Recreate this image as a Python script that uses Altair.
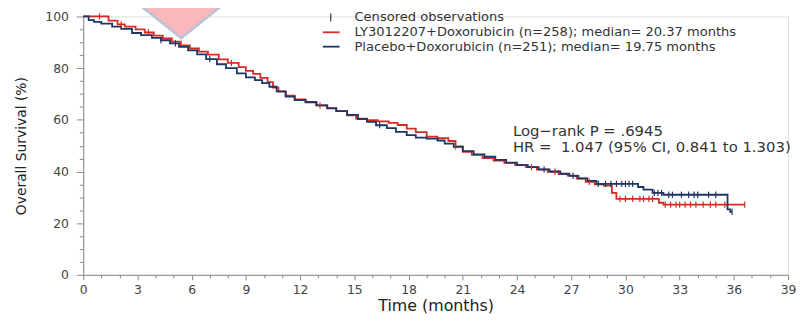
import altair as alt
import pandas as pd
from bisect import bisect_right

# ---- data ----
red_t = [0, 1.4, 1.9, 2.3, 2.9, 3.4, 3.9, 4.4, 4.9, 5.4, 5.9, 6.4, 6.9, 7.5, 8.0, 8.6, 9.0, 9.4, 9.8,
         10.2, 10.5, 10.8, 11.2, 11.7, 12.3, 12.9, 13.5, 14.0, 14.6, 15.1, 15.7, 16.3, 16.9, 17.4, 17.9,
         18.4, 19.0, 19.6, 20.2, 20.6, 21.0, 21.5, 22.1, 22.7, 23.3, 23.9, 24.5, 25.1, 25.7, 26.3, 26.8,
         27.3, 27.8, 28.3, 28.8, 29.25, 29.5, 31.85, 32.1, 36.6]
red_s = [100, 98.4, 96.9, 96.1, 95.0, 93.8, 92.6, 91.5, 90.3, 88.8, 87.6, 86.4, 85.2, 83.4, 82.0, 80.4, 78.9,
         77.8, 76.2, 74.6, 72.5, 70.9, 69.4, 67.9, 66.9, 65.6, 64.5, 63.4, 61.7, 60.5, 59.9, 59.4, 58.8, 58.0,
         56.6, 55.2, 53.5, 52.9, 51.8, 49.7, 47.6, 46.4, 45.2, 44.2, 43.3, 42.5, 41.7, 40.7, 39.9, 39.0, 38.4,
         37.2, 36.0, 35.0, 34.5, 31.7, 29.4, 27.9, 27.2, 27.2]

blue_t = [0, 0.3, 0.6, 1.0, 1.6, 2.1, 2.7, 3.2, 3.8, 4.3, 4.8, 5.3, 5.8, 6.3, 6.8, 7.4, 7.9, 8.5, 9.0, 9.5,
          9.9, 10.3, 10.7, 11.2, 11.7, 12.3, 12.9, 13.5, 14.0, 14.6, 15.2, 15.7, 16.2, 16.8, 17.3, 17.9,
          18.4, 19.0, 19.6, 20.0, 20.5, 21.0, 21.6, 22.2, 22.8, 23.4, 24.0, 24.6, 25.2, 25.8, 26.4, 26.9,
          27.4, 27.9, 28.4, 30.7, 31.0, 31.5, 32.1, 35.65, 35.8, 35.9]
blue_s = [100, 98.6, 97.9, 97.2, 96.1, 95.2, 93.6, 92.8, 91.7, 90.8, 89.6, 88.2, 86.9, 85.3, 83.5, 81.5,
          80.0, 78.0, 76.4, 75.4, 74.2, 72.8, 71.0, 69.0, 67.6, 66.8, 65.6, 64.4, 63.4, 61.9, 60.3, 59.2,
          57.9, 56.8, 55.3, 54.1, 53.1, 52.7, 52.0, 50.8, 49.5, 47.9, 46.6, 45.7, 44.5, 43.4, 42.5, 41.7,
          40.8, 40.0, 39.2, 38.3, 37.3, 36.4, 35.2, 34.0, 33.0, 31.7, 31.0, 25.3, 24.4, 24.4]

red_cens = [0.9, 2.1, 3.6, 8.2, 13.1, 20.6, 24.8, 26.1, 28.0, 29.7, 30.0, 30.4, 30.8, 31.0, 31.3, 31.5,
            32.2, 32.5, 32.8, 33.0, 33.3, 33.6, 33.9, 34.3, 34.7, 35.0, 35.5, 36.6]
blue_cens = [4.3, 5.1, 7.0, 16.4, 25.5, 27.1, 28.5, 28.9, 29.2, 29.5, 29.8, 30.0, 30.2, 30.4, 31.6, 31.8,
             32.0, 32.4, 32.6, 33.1, 33.5, 33.8, 34.0, 34.6, 35.0, 35.9]

arm_red = "LY3012207+Doxorubicin (n=258); median= 20.37 months"
arm_blue = "Placebo+Doxorubicin (n=251); median= 19.75 months"
censor_label = "Censored observations"
stats_lines = ["Log\u2212rank P = .6945", "HR =\u00a0 1.047 (95% CI, 0.841 to 1.303)"]

x_ticks = list(range(0, 40))
y_ticks = list(range(0, 101, 5))

RED = "#d52b22"
BLUE = "#1e3565"
FONT = "DejaVu Sans"
TXT = "#333333"


def step_at(ts, ss, t):
    i = bisect_right(ts, t) - 1
    return ss[max(i, 0)]


curves = pd.DataFrame(
    [{"t": t, "s": s, "arm": "red"} for t, s in zip(red_t, red_s)]
    + [{"t": t, "s": s, "arm": "blue"} for t, s in zip(blue_t, blue_s)]
)
cens = pd.DataFrame(
    [{"t": t, "s": step_at(red_t, red_s, t), "arm": "red"} for t in red_cens]
    + [{"t": t, "s": step_at(blue_t, blue_s, t), "arm": "blue"} for t in blue_cens]
)

color_scale = alt.Scale(domain=["red", "blue"], range=[RED, BLUE])

xscale = alt.Scale(domain=[0, 39], nice=False, zero=False)
yscale = alt.Scale(domain=[0, 100], nice=False)

xaxis = alt.Axis(
    values=x_ticks, title="Time (months)", grid=False,
    labelExpr="datum.value % 3 === 0 ? datum.label : ''",
    tickSize={"condition": {"test": "datum.value % 3 === 0", "value": 5}, "value": 3},
    labelPadding=4, labelOverlap=False, labelFlush=False,
    labelFont=FONT, labelFontSize=12.5, labelColor="#444",
    titleY=36, titleBaseline="alphabetic",
    titleFontSize=16, titleFont=FONT, titleFontWeight="normal", titleColor="#222",
)
yaxis = alt.Axis(
    values=y_ticks, title="Overall Survival (%)", grid=False,
    labelExpr="datum.value % 20 === 0 ? datum.label : ''",
    tickSize={"condition": {"test": "datum.value % 20 === 0", "value": 7}, "value": 4},
    labelPadding=8, labelOverlap=False, labelFlush=False,
    labelFont=FONT, labelFontSize=12.5, labelColor="#444",
    titlePadding=16, titleFontSize=14, titleFont=FONT, titleFontWeight="normal", titleColor="#222",
)

X = alt.X("t:Q", scale=xscale, axis=xaxis)
Y = alt.Y("s:Q", scale=yscale, axis=yaxis)

lines = alt.Chart(curves).mark_line(interpolate="step-after", strokeWidth=1.8).encode(
    x=X, y=Y,
    color=alt.Color("arm:N", scale=color_scale, legend=None),
    order=alt.Order("t:Q"),
)

ticks = alt.Chart(cens).mark_point(shape="M0,-1L0,1", size=40, filled=False, strokeWidth=1.2, opacity=1).encode(
    x=X, y=Y,
    color=alt.Color("arm:N", scale=color_scale, legend=None),
)

# decorative pink triangle at the top
tri_df = pd.DataFrame({"t": [5.42], "s": [91.6]})
tri = alt.Chart(tri_df).mark_point(
    shape="M-1.25,-1L1.25,-1L0,0Z", size=8649 * 0.64, filled=True, fill="#f9b8bb",
    stroke="#b7c3d8", strokeWidth=2.5, opacity=1, fillOpacity=1,
).encode(x=X, y=Y)


def label(txt, x, y, size):
    return alt.Chart(pd.DataFrame({"label": [txt]})).mark_text(
        align="left", baseline="middle", font=FONT, fontSize=size, color=TXT
    ).encode(x=alt.value(x), y=alt.value(y), text="label:N")


seg_df = pd.DataFrame({"k": [0]})
leg_cens = alt.Chart(seg_df).mark_rule(color="#444", strokeWidth=1.3).encode(
    x=alt.value(250), y=alt.value(-3), y2=alt.value(5)
)
leg_red = alt.Chart(seg_df).mark_rule(color=RED, strokeWidth=1.8).encode(
    x=alt.value(242), x2=alt.value(259), y=alt.value(16)
)
leg_blue = alt.Chart(seg_df).mark_rule(color=BLUE, strokeWidth=1.8).encode(
    x=alt.value(242), x2=alt.value(259), y=alt.value(30.5)
)

chart = alt.layer(
    lines, ticks, tri,
    label(censor_label, 274, 1, 13.2), label(arm_red, 274, 16, 13.2), label(arm_blue, 274, 30.5, 13.2),
    leg_cens, leg_red, leg_blue,
    label(stats_lines[0], 434, 115.5, 15), label(stats_lines[1], 434, 132, 15),
).properties(
    width=712, height=261,
    autosize=alt.AutoSizeParams(type="none"),
    padding={"left": 76, "top": 7, "right": 9, "bottom": 38},
).configure_view(stroke=None).configure_axis(
    domainColor="#555", domainWidth=1.5, tickColor="#555", tickWidth=1.3,
).configure(background="white")

chart.save("out.html", embed_options={"renderer": "svg", "actions": False})
